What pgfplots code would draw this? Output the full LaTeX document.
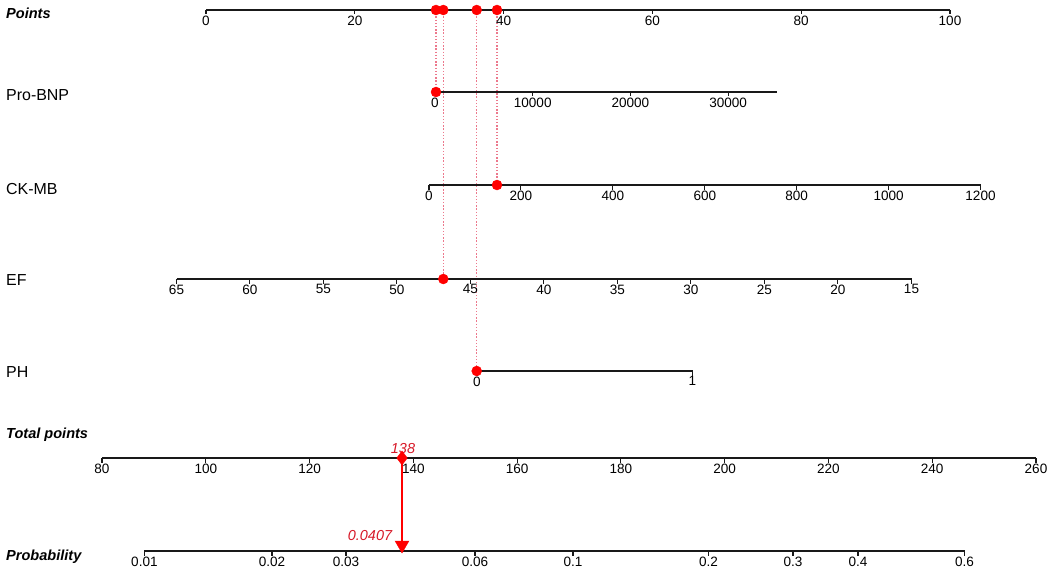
\documentclass[border=0pt]{standalone}
\usepackage{pgfplots}
\usepackage{pgfplotstable}
\usepackage{fontspec}
\setmainfont{Liberation Sans}
\pgfplotsset{compat=1.18}
\definecolor{dotred}{RGB}{255,0,0}
\definecolor{txtred}{RGB}{215,25,40}
\definecolor{guide}{RGB}{236,120,140}
\definecolor{axgray}{RGB}{25,25,25}
\pgfdeclareplotmark{tickd}{\pgfpathmoveto{\pgfqpoint{0pt}{0pt}}\pgfpathlineto{\pgfpoint{0pt}{-4.5bp}}\pgfusepathqstroke}
\newcommand\tickfont{\fontsize{13.6}{13.6}\selectfont}
\newcommand\varfont{\fontsize{16}{16}\selectfont}
\newcommand\headfont{\fontsize{14.6}{14.6}\selectfont\bfseries\itshape}
\pgfplotsset{
  rowline/.style={axgray, line width=1.2bp, mark=none},
  tickrow/.style={axgray, line width=1.1bp, only marks, mark=tickd,
    nodes near coords, point meta=explicit symbolic,
    nodes near coords style={anchor=north, yshift=-5bp, font=\tickfont, inner sep=0pt, text=black}},
  guideline/.style={guide, line width=1.2bp, dash pattern=on 1.4bp off 1.8bp},
}
% tick positions (x in px across the chart), row height y, label
\pgfplotstableread{
x y lab
206 10 0
354.8 10 20
503.6 10 40
652.4 10 60
801.2 10 80
950 10 100
}\ptsticks
\pgfplotstableread{
x y lab
435 92 0
532.7 92 10000
630.4 92 20000
728.1 92 30000
}\bnpticks
\pgfplotstableread{
x y lab
429 185 0
520.9 185 200
612.8 185 400
704.8 185 600
796.7 185 800
888.6 185 1000
980.5 185 1200
}\ckticks
\pgfplotstableread{
x y lab
176.5 279 65
249.9 279 60
323.4 279 55
396.9 279 50
470.4 279 45
543.9 279 40
617.4 279 35
690.9 279 30
764.4 279 25
837.9 279 20
911.5 279 15
}\efticks
\pgfplotstableread{
x y lab
477 371 0
692.5 371 1
}\phticks
\pgfplotstableread{
x y lab
102 458 80
205.8 458 100
309.6 458 120
413.3 458 140
517.1 458 160
620.9 458 180
724.7 458 200
828.4 458 220
932.2 458 240
1036 458 260
}\totticks
\pgfplotstableread{
x y lab
144.4 551 0.01
272 551 0.02
346 551 0.03
475 551 0.06
573 551 0.1
708.6 551 0.2
793 551 0.3
858 551 0.4
964.6 551 0.6
}\probticks
\begin{document}
\begin{tikzpicture}
\begin{axis}[width=1053bp, height=571bp, scale only axis,
  xmin=0, xmax=1053, ymin=0, ymax=571, y dir=reverse,
  axis lines=none, clip=false]
% guide lines
\addplot[guideline] coordinates {(436,10) (436,92)};
\addplot[guideline] coordinates {(443.3,10) (443.3,279)};
\addplot[guideline] coordinates {(476.7,10) (476.7,371)};
\addplot[guideline] coordinates {(497,10) (497,185)};
% scales
\addplot[rowline] coordinates {(206,10) (950,10)};
\addplot[tickrow] table[x=x,y=y,meta=lab]{\ptsticks};
\addplot[rowline] coordinates {(435,92) (777,92)};
\addplot[tickrow] table[x=x,y=y,meta=lab]{\bnpticks};
\addplot[rowline] coordinates {(429,185) (980.5,185)};
\addplot[tickrow] table[x=x,y=y,meta=lab]{\ckticks};
\addplot[rowline] coordinates {(176.5,279) (911.5,279)};
\addplot[tickrow] table[x=x,y=y,meta=lab]{\efticks};
\addplot[rowline] coordinates {(477,371) (692.5,371)};
\addplot[tickrow] table[x=x,y=y,meta=lab]{\phticks};
\addplot[rowline] coordinates {(102,458) (1036,458)};
\addplot[tickrow] table[x=x,y=y,meta=lab]{\totticks};
\addplot[rowline] coordinates {(144.4,551) (964.6,551)};
\addplot[tickrow] table[x=x,y=y,meta=lab]{\probticks};
% points of the case
\addplot[only marks, mark=*, mark size=5bp, dotred] coordinates {(436,10) (443.3,10) (476.7,10) (497,10)};
\addplot[only marks, mark=*, mark size=5bp, dotred] coordinates {(436,92) (497,185) (443.3,279) (476.7,371)};
% total points -> probability
\addplot[dotred, line width=1.2bp] coordinates {(402,458) (402,546)};
\addplot[only marks, mark=triangle*, mark size=8bp, mark options={rotate=180}, dotred] coordinates {(402,545)};
\addplot[only marks, mark=diamond*, mark size=7bp, dotred] coordinates {(402,458)};
\node[txtred, font=\fontsize{14.5}{14.5}\selectfont\itshape] at (axis cs:403,449) {138};
\node[txtred, font=\fontsize{14.5}{14.5}\selectfont\itshape] at (axis cs:370,536) {0.0407};
% row names
\node[anchor=west, inner sep=0pt, font=\headfont] at (axis cs:6,13) {Points};
\node[anchor=west, inner sep=0pt, font=\varfont] at (axis cs:6,95) {Pro-BNP};
\node[anchor=west, inner sep=0pt, font=\varfont] at (axis cs:6,189) {CK-MB};
\node[anchor=west, inner sep=0pt, font=\varfont] at (axis cs:6,280) {EF};
\node[anchor=west, inner sep=0pt, font=\varfont] at (axis cs:6,372) {PH};
\node[anchor=west, inner sep=0pt, font=\headfont] at (axis cs:6,435) {Total points};
\node[anchor=west, inner sep=0pt, font=\headfont] at (axis cs:6,557) {Probability};
\coordinate (bl) at (axis cs:0,571);
\coordinate (tr) at (axis cs:1053,0);
\end{axis}
\pgfresetboundingbox
\path (bl) rectangle (tr);
\end{tikzpicture}
\end{document}
